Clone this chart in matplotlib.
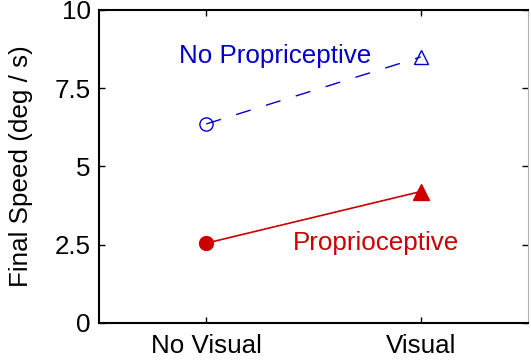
import matplotlib
matplotlib.use("Agg")
import matplotlib.pyplot as plt

plt.rcParams['font.family'] = ['Liberation Sans', 'DejaVu Sans']

conditions = ["No Visual", "Visual"]
no_proprio = [6.36, 8.5]
proprio = [2.55, 4.2]
yticks = [0, 2.5, 5, 7.5, 10]
ytick_labels = ["0", "2.5", "5", "7.5", "10"]

blue = (0.0, 0.0, 0.8)
red = (0.8, 0.0, 0.0)
fs = 18.7

fig = plt.figure(figsize=(5.31, 3.64), dpi=100)
ax = fig.add_axes([99 / 531, 1 - 323 / 364, 429 / 531, 313 / 364])

x = [1, 2]
ax.plot(x, no_proprio, color=blue, linestyle=(0, (11, 11.5)), linewidth=1.0)
ax.plot(x[0], no_proprio[0], marker='o', markersize=9.5, markerfacecolor='none',
        markeredgecolor=blue, markeredgewidth=1.0, linestyle='none')
ax.plot(x[1], no_proprio[1], marker='^', markersize=10, markerfacecolor='none',
        markeredgecolor=blue, markeredgewidth=1.0, linestyle='none')

ax.plot(x, proprio, color=red, linewidth=1.2)
ax.plot(x[0], proprio[0], marker='o', markersize=10, color=red, linestyle='none')
ax.plot(x[1], proprio[1], marker='^', markersize=11, color=red, linestyle='none')

ax.text(1.323, 8.31, "No Propriceptive", color=blue, fontsize=fs,
        ha='center', va='baseline')
ax.text(1.79, 2.33, "Proprioceptive", color=red, fontsize=fs,
        ha='center', va='baseline')

ax.set_xlim(0.5, 2.5)
ax.set_ylim(0, 10)
ax.set_xticks(x)
ax.set_xticklabels(conditions, fontsize=fs)
ax.set_yticks(yticks)
ax.set_yticklabels(ytick_labels, fontsize=fs)
ax.set_ylabel("Final Speed (deg / s)", fontsize=fs)
ax.yaxis.set_label_coords(-0.154, 0.5)
ax.tick_params(direction='in', length=4, width=1, top=True, right=True)
ax.tick_params(axis='y', pad=6)
ax.tick_params(axis='x', pad=8)

for side in ['left', 'bottom', 'top']:
    ax.spines[side].set_linewidth(1.5)
ax.spines['right'].set_linewidth(0.8)
ax.spines['right'].set_color('#b0b0b0')

fig.savefig("out.png", dpi=100)
